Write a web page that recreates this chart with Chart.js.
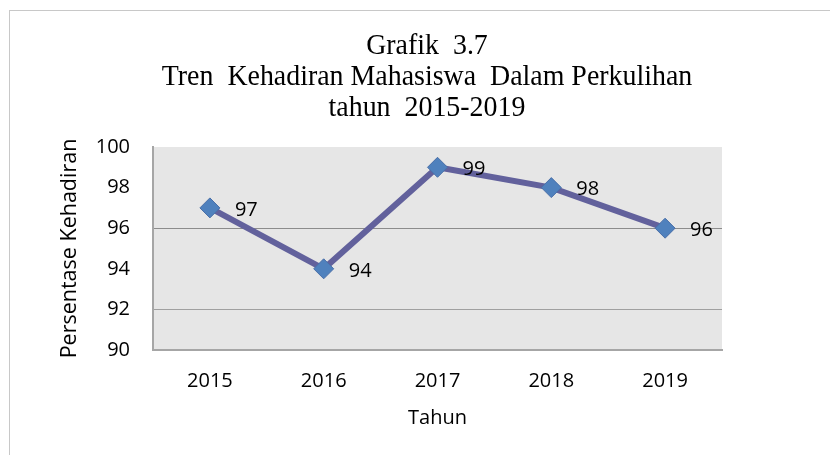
<!DOCTYPE html>
<html>
<head>
<meta charset="utf-8">
<script src="https://cdn.jsdelivr.net/npm/chart.js@4"></script>
<style>
  html, body { margin: 0; padding: 0; background: #fff; }
  #wrap { position: relative; width: 830px; height: 455px; overflow: hidden; }
  #frame { position: absolute; left: 9px; top: 10px; width: 840px; height: 460px; border: 1px solid #c8c8c8; box-sizing: border-box; }
  #title {
    position: absolute; left: 127px; top: 28px; width: 600px;
    text-align: center; font-family: 'Liberation Serif', 'Times New Roman', serif;
    font-size: 30px; line-height: 31px; color: #000; white-space: pre;
    transform: scaleX(0.93); transform-origin: center top;
  }
  canvas { position: absolute; left: 0; top: 0; }
</style>
</head>
<body>
<div id="wrap">
  <div id="frame"></div>
  <canvas id="chart" width="830" height="455"></canvas>
  <div id="title"></div>
</div>
<script>
const years = ['2015', '2016', '2017', '2018', '2019'];
const kehadiran = [97, 94, 99, 98, 96];
const titleLines = ['Grafik  3.7', 'Tren  Kehadiran Mahasiswa  Dalam Perkulihan', 'tahun  2015-2019'];
const yTitle = 'Persentase Kehadiran';
const xTitle = 'Tahun';

const sansFont = "'Open Sans', 'Noto Sans', sans-serif";

document.getElementById('title').textContent = titleLines.join('\n');

// plot background + value labels
const plotBg = {
  id: 'plotBg',
  beforeDraw(chart) {
    const { ctx, chartArea: a } = chart;
    ctx.save();
    ctx.fillStyle = '#e6e6e6';
    ctx.fillRect(a.left, a.top, a.right - a.left, a.bottom - a.top);
    ctx.restore();
  },
};

const valueLabels = {
  id: 'valueLabels',
  afterDatasetsDraw(chart) {
    const { ctx } = chart;
    const meta = chart.getDatasetMeta(0);
    ctx.save();
    ctx.font = `20px ${sansFont}`;
    ctx.fillStyle = '#000';
    ctx.textBaseline = 'middle';
    ctx.textAlign = 'left';
    meta.data.forEach((pt, i) => {
      ctx.fillText(String(kehadiran[i]), pt.x + 25, pt.y + 2);
    });
    ctx.restore();
  },
};

new Chart(document.getElementById('chart'), {
  type: 'line',
  data: {
    labels: years,
    datasets: [{
      data: kehadiran,
      borderColor: '#62619c',
      borderWidth: 6,
      pointStyle: 'rectRot',
      pointRadius: 10,
      pointHoverRadius: 10,
      pointBackgroundColor: '#4f81bd',
      pointBorderColor: '#4a6fa8',
      pointBorderWidth: 1,
      tension: 0,
    }],
  },
  options: {
    responsive: false,
    animation: false,
    layout: { padding: { left: 57, right: 108, top: 147, bottom: 25 } },
    plugins: {
      legend: { display: false },
      tooltip: { enabled: false },
      title: { display: false },
    },
    scales: {
      x: {
        offset: true,
        grid: { display: false, drawTicks: false },
        border: { display: true, color: '#a6a6a6', width: 2 },
        ticks: { color: '#000', font: { family: sansFont, size: 20 }, padding: 19 },
        title: { display: true, text: xTitle, color: '#000', font: { family: sansFont, size: 20 }, padding: { top: -6, bottom: 0 } },
      },
      y: {
        min: 90,
        max: 100,
        afterFit(scale) { scale.width = 96; },
        grid: {
          drawTicks: false,
          color: (c) => (c.tick && c.tick.value === 96 ? '#8c8c8c' : c.tick && c.tick.value === 92 ? '#a0a0a0' : 'rgba(0,0,0,0)'),
          lineWidth: 1,
        },
        border: { display: true, color: '#a6a6a6', width: 2 },
        ticks: { stepSize: 2, color: '#000', font: { family: sansFont, size: 20 }, padding: 23 },
        title: { display: true, text: yTitle, color: '#000', font: { family: sansFont, size: 21.5 }, padding: { top: 0, bottom: 0 } },
      },
    },
  },
  plugins: [plotBg, valueLabels],
});
</script>
</body>
</html>
